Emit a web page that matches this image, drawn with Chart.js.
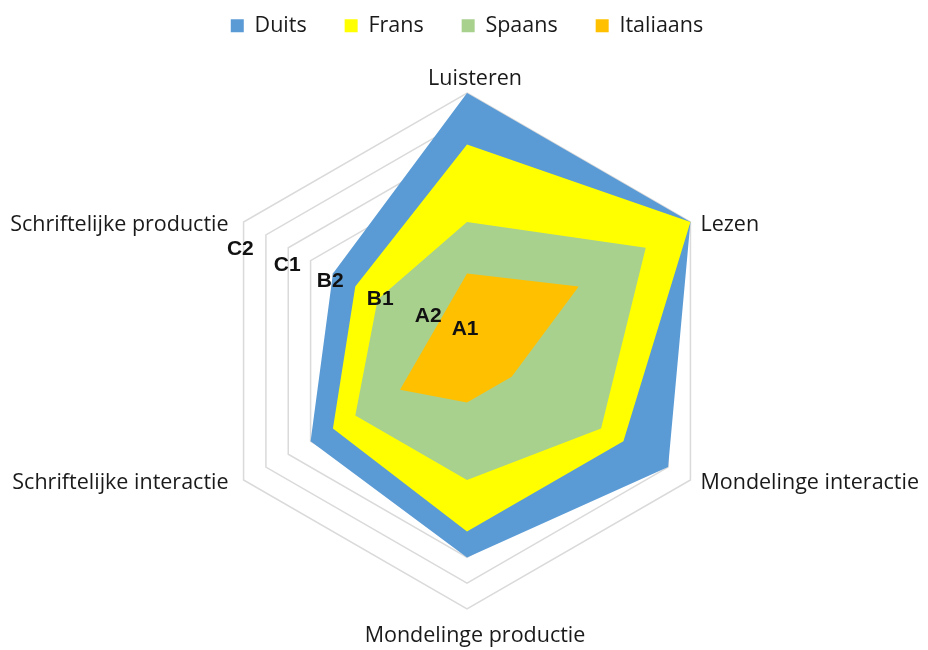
<!DOCTYPE html>
<html>
<head>
<meta charset="utf-8">
<script src="https://cdn.jsdelivr.net/npm/chart.js@4.4.1/dist/chart.umd.min.js"></script>
<style>
  html, body { margin: 0; padding: 0; background: #fff; }
  #wrap { width: 928px; height: 650px; position: relative; }
</style>
</head>
<body>
<div id="wrap"><canvas id="radarChart"></canvas></div>
<script>
// Vaardigheden (assen), met de klok mee vanaf boven
const skills = [
    'Luisteren',
    'Lezen',
    'Mondelinge interactie',
    'Mondelinge productie',
    'Schriftelijke interactie',
    'Schriftelijke productie'
];

// Niveaus per taal (schaal 0-10)
const duits     = [10, 10, 9, 8, 7, 6];
const frans     = [8, 10, 7, 7, 6, 5];
const spaans    = [5, 8, 6, 5, 5, 4];
const italiaans = [3, 5, 2, 2, 3, 1.5];

// ERK-labels en hun plek op de schaal
const levelLabels = ['A1', 'A2', 'B1', 'B2', 'C1', 'C2'];
const levelValues = [0.08, 1.6, 3.57, 5.63, 7.4, 9.33];

const FONT = '"Open Sans", "Noto Sans", sans-serif';

// ERK-labels tekenen langs een schuine lijn linksboven
const levelLabelPlugin = {
    id: 'levelLabels',
    afterDatasetsDraw(chart) {
        const scale = chart.scales.r;
        const ctx = chart.ctx;
        const angle = 19.7 * Math.PI / 180;
        ctx.save();
        ctx.font = 'bold 21px "Liberation Sans", Arial, sans-serif';
        ctx.fillStyle = '#111';
        ctx.textAlign = 'center';
        ctx.textBaseline = 'middle';
        levelLabels.forEach((lbl, i) => {
            const d = scale.getDistanceFromCenterForValue(levelValues[i]);
            const x = scale.xCenter - d * Math.cos(angle);
            const y = scale.yCenter - 21 - d * Math.sin(angle);
            ctx.fillText(lbl, x, y);
        });
        ctx.restore();
    }
};

// Aslabels: naast de hoekpunten, verticaal gecentreerd
const skillLabelPlugin = {
    id: 'skillLabels',
    afterDatasetsDraw(chart) {
        const scale = chart.scales.r;
        const ctx = chart.ctx;
        ctx.save();
        ctx.font = '21.5px ' + FONT;
        ctx.fillStyle = '#1a1a1a';
        skills.forEach((name, i) => {
            const p = scale.getPointPosition(i, scale.drawingArea);
            const dx = p.x - scale.xCenter;
            const dy = p.y - scale.yCenter;
            if (Math.abs(dx) < 1) {
                ctx.textAlign = 'center';
                ctx.textBaseline = 'alphabetic';
                ctx.fillText(name, p.x + 8, dy < 0 ? p.y - 8 : p.y + 33);
            } else {
                ctx.textAlign = dx > 0 ? 'left' : 'right';
                ctx.textBaseline = 'middle';
                ctx.fillText(name, p.x + (dx > 0 ? 10 : -15), p.y + 3);
            }
        });
        ctx.restore();
    }
};

function makeSet(label, data, color, order) {
    return {
        label: label,
        data: data,
        backgroundColor: color,
        borderColor: color,
        borderWidth: 0,
        fill: true,
        pointRadius: 0,
        pointHoverRadius: 0,
        order: order
    };
}

const ctx = document.getElementById('radarChart').getContext('2d');
const chart = new Chart(ctx, {
    type: 'radar',
    data: {
        labels: skills,
        datasets: [
            makeSet('Duits', duits, '#5b9bd5', 4),
            makeSet('Frans', frans, '#ffff00', 3),
            makeSet('Spaans', spaans, '#a9d18e', 2),
            makeSet('Italiaans', italiaans, '#ffc000', 1)
        ]
    },
    options: {
        responsive: true,
        maintainAspectRatio: false,
        animation: false,
        layout: {
            padding: { top: -23, bottom: 40, left: 6, right: 0 }
        },
        scales: {
            r: {
                min: 0,
                max: 10,
                ticks: { display: false, stepSize: 1 },
                angleLines: { display: false },
                grid: { color: '#dadada', lineWidth: 1.5 },
                pointLabels: { display: false }
            }
        },
        plugins: {
            legend: {
                position: 'top',
                labels: {
                    color: '#1a1a1a',
                    boxWidth: 13,
                    boxHeight: 13,
                    padding: 38,
                    font: { family: FONT, size: 21.5 },
                    sort: (a, b) => a.datasetIndex - b.datasetIndex
                }
            },
            // lege titel als witruimte tussen legenda en grafiek
            title: {
                display: true,
                text: '',
                weight: 500,
                font: { size: 10 },
                padding: { top: 0, bottom: 34.5 }
            },
            tooltip: { enabled: false }
        }
    },
    plugins: [levelLabelPlugin, skillLabelPlugin]
});
</script>
</body>
</html>
